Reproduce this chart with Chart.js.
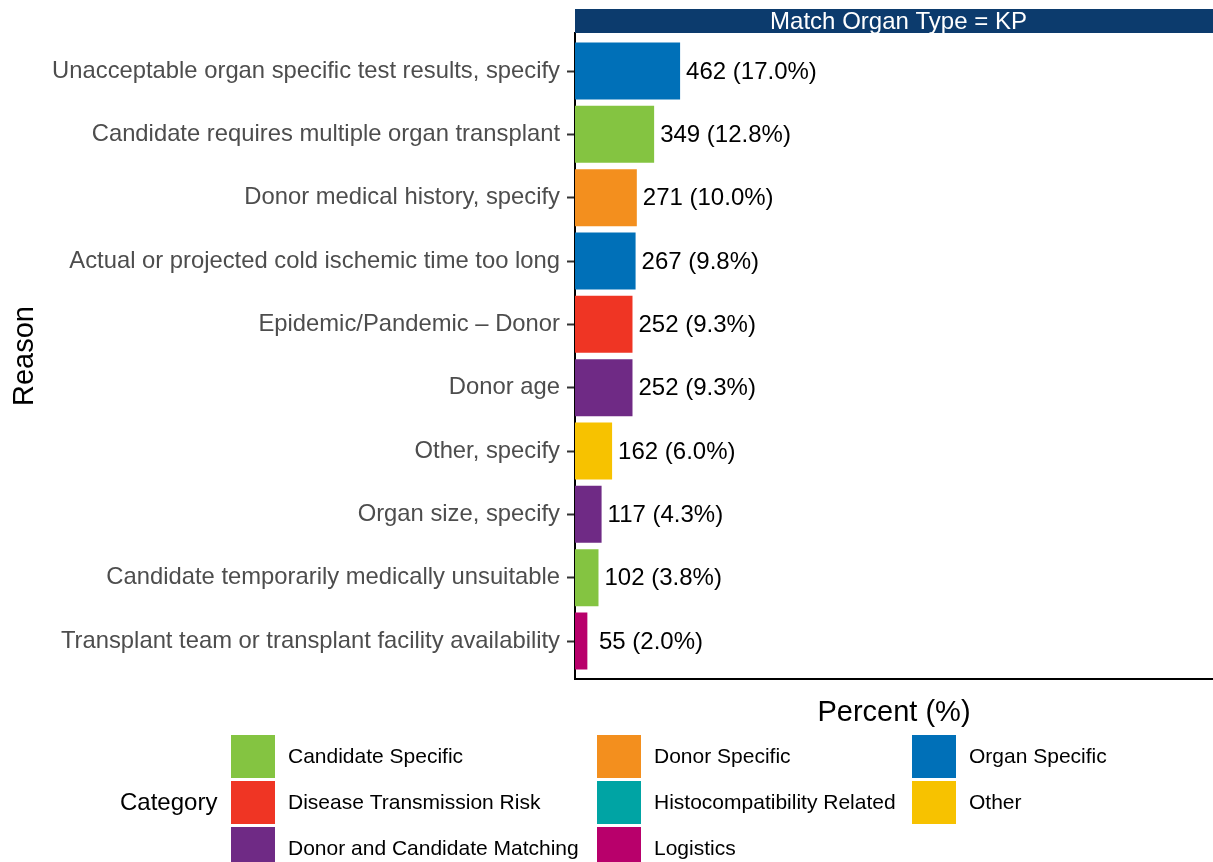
<!DOCTYPE html>
<html>
<head>
<meta charset="utf-8">
<script src="https://cdn.jsdelivr.net/npm/chart.js@4"></script>
<style>
  html, body { margin: 0; padding: 0; background: #fff; }
  #c { display: block; }
</style>
</head>
<body>
<canvas id="c" width="1213" height="862"></canvas>
<script>
const reasons = [
  "Unacceptable organ specific test results, specify",
  "Candidate requires multiple organ transplant",
  "Donor medical history, specify",
  "Actual or projected cold ischemic time too long",
  "Epidemic/Pandemic \u2013 Donor",
  "Donor age",
  "Other, specify",
  "Organ size, specify",
  "Candidate temporarily medically unsuitable",
  "Transplant team or transplant facility availability"
];
const counts = [462, 349, 271, 267, 252, 252, 162, 117, 102, 55];
const percents = [17.0, 12.8, 10.0, 9.8, 9.3, 9.3, 6.0, 4.3, 3.8, 2.0];
const reasonCategory = [
  "Organ Specific",
  "Candidate Specific",
  "Donor Specific",
  "Organ Specific",
  "Disease Transmission Risk",
  "Donor and Candidate Matching",
  "Other",
  "Donor and Candidate Matching",
  "Candidate Specific",
  "Logistics"
];
const categoryNames = [
  "Candidate Specific", "Disease Transmission Risk", "Donor and Candidate Matching",
  "Donor Specific", "Histocompatibility Related", "Logistics",
  "Organ Specific", "Other"
];
const categoryColors = [
  "#84c441", "#ef3524", "#6f2a85",
  "#f38f1e", "#00a4a4", "#b8006b",
  "#0070b8", "#f7c200"
];
const facetLabel = "Match Organ Type = KP";

const FONT = "'Liberation Sans', Arial, Helvetica, sans-serif";
const colorOf = name => categoryColors[categoryNames.indexOf(name)];

const stripPlugin = {
  id: 'strip',
  afterDraw(chart) {
    const {ctx, chartArea} = chart;
    const top = 9, h = chartArea.top - 9;
    ctx.save();
    ctx.fillStyle = '#0c3b6d';
    ctx.fillRect(chartArea.left, top, chartArea.right - chartArea.left, h);
    ctx.beginPath();
    ctx.rect(chartArea.left, top, chartArea.right - chartArea.left, h);
    ctx.clip();
    ctx.fillStyle = '#ffffff';
    ctx.font = `24px ${FONT}`;
    ctx.textAlign = 'center';
    ctx.textBaseline = 'middle';
    ctx.fillText(facetLabel, (chartArea.left + chartArea.right) / 2 + 4.5, top + h / 2 + 1);
    ctx.restore();
  }
};

const valueLabelPlugin = {
  id: 'valueLabels',
  afterDatasetsDraw(chart) {
    const {ctx, chartArea} = chart;
    const meta = chart.getDatasetMeta(0);
    ctx.save();
    ctx.fillStyle = '#000000';
    ctx.font = `24px ${FONT}`;
    ctx.textAlign = 'left';
    ctx.textBaseline = 'middle';
    meta.data.forEach((el, i) => {
      const x = Math.max(el.x + 6, chartArea.left + 24);
      ctx.fillText(`${counts[i]} (${percents[i].toFixed(1)}%)`, x, el.y + 1);
    });
    ctx.restore();
  }
};

const legendPlugin = {
  id: 'customLegend',
  afterDraw(chart) {
    const {ctx} = chart;
    const colX = [231, 597, 912];
    const rowTop = [735, 781, 827];
    const keyW = 44, keyH = 43;
    ctx.save();
    ctx.fillStyle = '#000';
    ctx.font = `24px ${FONT}`;
    ctx.textBaseline = 'middle';
    ctx.textAlign = 'left';
    ctx.fillText('Category', 120, 803);
    ctx.font = `21px ${FONT}`;
    categoryNames.forEach((name, i) => {
      const col = Math.floor(i / 3), row = i % 3;
      const x = colX[col], y = rowTop[row];
      ctx.fillStyle = categoryColors[i];
      ctx.fillRect(x, y, keyW, keyH);
      ctx.fillStyle = '#000';
      ctx.fillText(name, x + 57, y + keyH / 2 + 1);
    });
    ctx.restore();
  }
};

new Chart(document.getElementById('c'), {
  type: 'bar',
  data: {
    datasets: [{
      data: percents.map((p, i) => ({x: p, y: i})),
      backgroundColor: reasonCategory.map(colorOf),
      borderWidth: 0,
      barPercentage: 0.9,
      categoryPercentage: 1.0
    }]
  },
  options: {
    indexAxis: 'y',
    responsive: false,
    animation: false,
    devicePixelRatio: 1,
    layout: { padding: { left: 0, right: 0, top: 33, bottom: 122 } },
    plugins: { legend: { display: false }, tooltip: { enabled: false } },
    scales: {
      x: {
        type: 'linear',
        min: 0,
        max: 103.2,
        ticks: { display: false },
        grid: { display: false },
        border: { display: true, color: '#000', width: 2 },
        title: {
          display: true, text: 'Percent (%)', color: '#000',
          font: { family: FONT, size: 29 }, padding: { top: 0, bottom: 10 }
        },
        afterFit(scale) { scale.height = 61; }
      },
      y: {
        type: 'linear',
        reverse: true,
        min: -0.6,
        max: 9.6,
        offset: false,
        afterBuildTicks(scale) { scale.ticks = reasons.map((_, i) => ({value: i})); },
        ticks: {
          autoSkip: false,
          color: '#4d4d4d',
          font: { family: FONT, size: 23.8 },
          padding: 7,
          callback: (v) => reasons[v]
        },
        grid: {
          display: true, drawOnChartArea: false, drawTicks: true, offset: false,
          tickLength: 8, tickColor: '#333333', tickWidth: 2
        },
        border: { display: true, color: '#000', width: 2 },
        title: {
          display: true, text: 'Reason', color: '#000',
          font: { family: FONT, size: 29 }, padding: { top: 8, bottom: 0 }
        },
        afterFit(scale) { scale.width = 575; }
      }
    }
  },
  plugins: [stripPlugin, valueLabelPlugin, legendPlugin]
});
</script>
</body>
</html>
